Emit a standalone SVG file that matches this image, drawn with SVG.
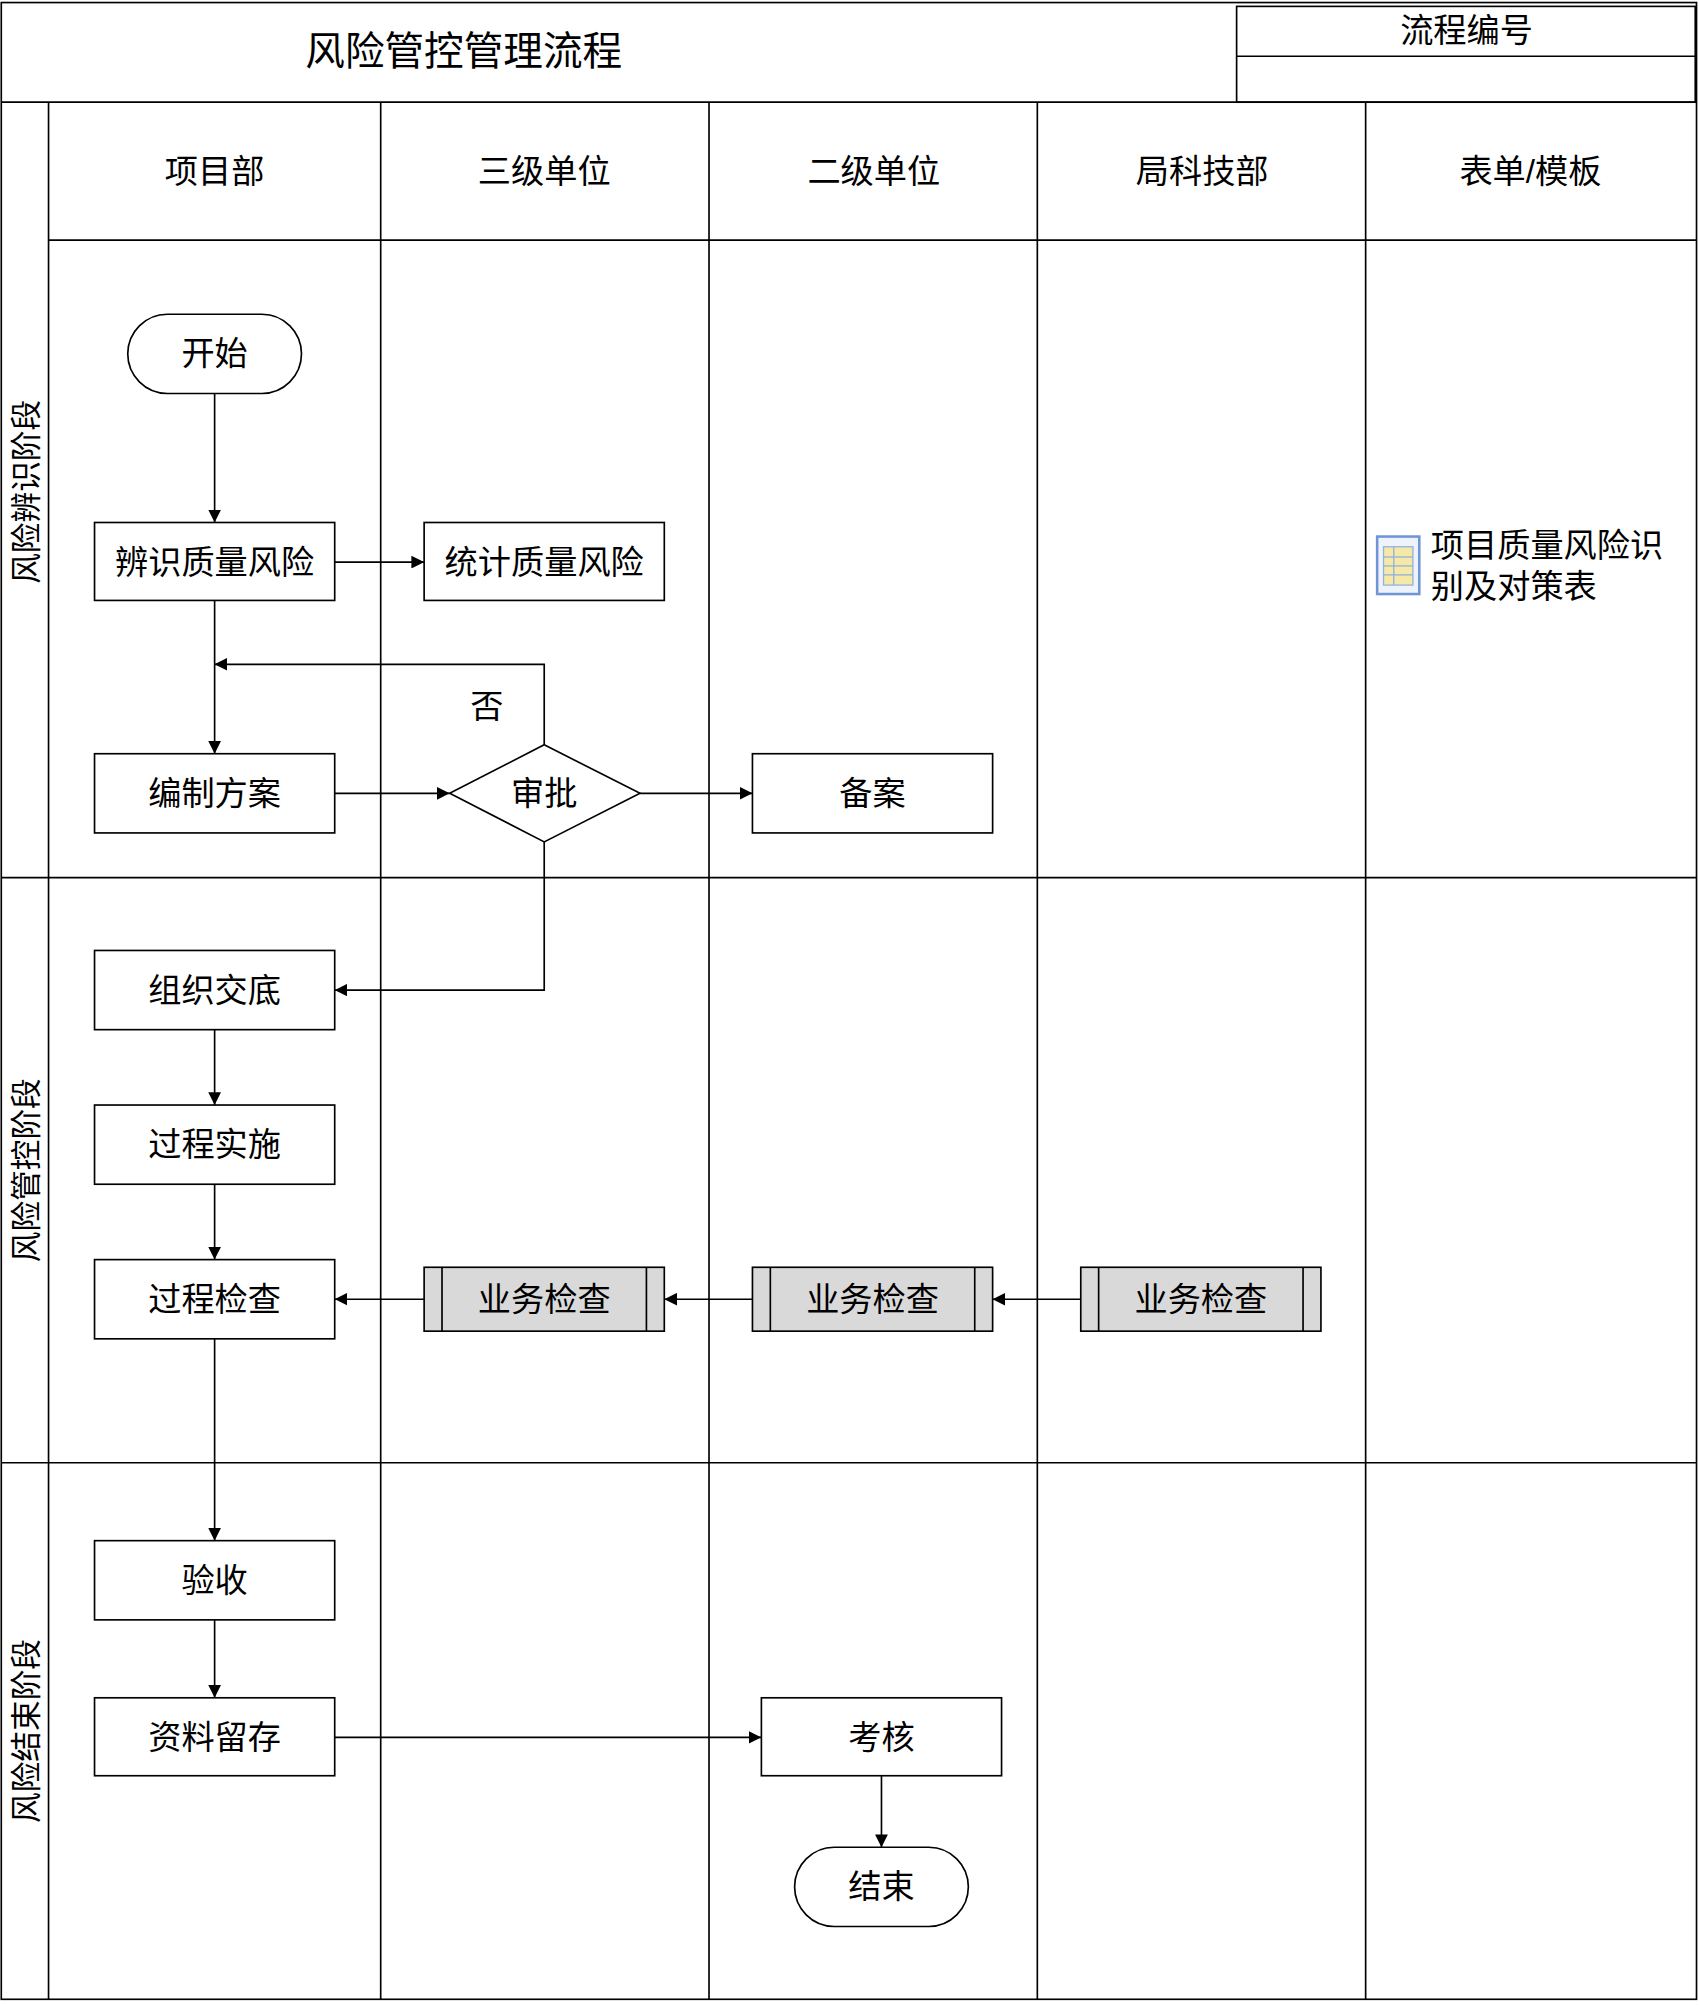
<svg xmlns="http://www.w3.org/2000/svg" width="1699" height="2005" viewBox="0 0 1699 2005">
<defs>
<style>
.ln{stroke:#000;stroke-width:1.3;fill:none}
.bx{stroke:#000;stroke-width:1.3;fill:#fff}
.gb{stroke:#000;stroke-width:1.3;fill:#d9d9d9}
.t{font-family:"Liberation Sans","Noto Sans CJK SC",sans-serif;font-size:26px;text-anchor:middle;dominant-baseline:central;fill:#000}
.c{stroke:#000;stroke-width:1.3;fill:none;marker-end:url(#a)}
</style>
<marker id="a" viewBox="0 0 10 10" refX="10" refY="5" markerWidth="10" markerHeight="10" markerUnits="userSpaceOnUse" orient="auto"><path d="M0,0 L10,5 L0,10 z" fill="#000"/></marker>
</defs>
<rect width="1699" height="2005" fill="#fff"/>
<g transform="scale(1.2775)">
<g id="frame">
<rect class="ln" x="1" y="2" width="1327" height="1563"/>
<line class="ln" x1="1" y1="80" x2="1328" y2="80"/>
<text class="t" x="363" y="40" style="font-size:31px">风险管控管理流程</text>
<rect class="ln" x="968" y="5" width="359" height="75"/>
<line class="ln" x1="968" y1="44" x2="1327" y2="44"/>
<text class="t" x="1148" y="24">流程编号</text>
<line class="ln" x1="38" y1="80" x2="38" y2="1565"/>
<line class="ln" x1="298" y1="80" x2="298" y2="1565"/>
<line class="ln" x1="555" y1="80" x2="555" y2="1565"/>
<line class="ln" x1="812" y1="80" x2="812" y2="1565"/>
<line class="ln" x1="1069" y1="80" x2="1069" y2="1565"/>
<line class="ln" x1="38" y1="188" x2="1328" y2="188"/>
<line class="ln" x1="1" y1="687" x2="1328" y2="687"/>
<line class="ln" x1="1" y1="1145" x2="1328" y2="1145"/>
<text class="t" x="168" y="134">项目部</text>
<text class="t" x="426" y="134">三级单位</text>
<text class="t" x="684" y="134">二级单位</text>
<text class="t" x="941" y="134">局科技部</text>
<text class="t" x="1198" y="134">表单/模板</text>
<text class="t" transform="translate(20,385) rotate(-90)" style="font-size:24px">风险辨识阶段</text>
<text class="t" transform="translate(20,916) rotate(-90)" style="font-size:24px">风险管控阶段</text>
<text class="t" transform="translate(20,1355) rotate(-90)" style="font-size:24px">风险结束阶段</text>
</g>
<g id="connectors">
<line class="c" x1="168" y1="308" x2="168" y2="409"/>
<line class="c" x1="262" y1="440" x2="332" y2="440"/>
<line class="c" x1="168" y1="470" x2="168" y2="590"/>
<polyline class="c" points="426,583 426,520 168,520"/>
<text x="381" y="553" style="font-family:'Liberation Serif','Noto Sans CJK SC',serif;font-size:26px" text-anchor="middle" dominant-baseline="central">否</text>
<line class="c" x1="262" y1="621" x2="352" y2="621"/>
<line class="c" x1="501" y1="621" x2="589" y2="621"/>
<polyline class="c" points="426,659 426,775 262,775"/>
<line class="c" x1="168" y1="806" x2="168" y2="865"/>
<line class="c" x1="168" y1="927" x2="168" y2="986"/>
<line class="c" x1="332" y1="1017" x2="262" y2="1017"/>
<line class="c" x1="589" y1="1017" x2="520" y2="1017"/>
<line class="c" x1="846" y1="1017" x2="777" y2="1017"/>
<line class="c" x1="168" y1="1048" x2="168" y2="1206"/>
<line class="c" x1="168" y1="1268" x2="168" y2="1329"/>
<line class="c" x1="262" y1="1360" x2="596" y2="1360"/>
<line class="c" x1="690" y1="1390" x2="690" y2="1446"/>
</g>
<g id="start"><rect class="bx" x="100" y="246" width="136" height="62" rx="31"/><text class="t" x="168" y="277">开始</text></g>
<g id="identify"><rect class="bx" x="74" y="409" width="188" height="61"/><text class="t" x="168" y="440">辨识质量风险</text></g>
<g id="stat"><rect class="bx" x="332" y="409" width="188" height="61"/><text class="t" x="426" y="440">统计质量风险</text></g>
<g id="plan"><rect class="bx" x="74" y="590" width="188" height="62"/><text class="t" x="168" y="621">编制方案</text></g>
<g id="approve"><polygon class="bx" points="426,583 501,621 426,659 352,621"/><text class="t" x="426" y="621">审批</text></g>
<g id="record"><rect class="bx" x="589" y="590" width="188" height="62"/><text class="t" x="683" y="621">备案</text></g>
<g id="brief"><rect class="bx" x="74" y="744" width="188" height="62"/><text class="t" x="168" y="775">组织交底</text></g>
<g id="implement"><rect class="bx" x="74" y="865" width="188" height="62"/><text class="t" x="168" y="896">过程实施</text></g>
<g id="inspect"><rect class="bx" x="74" y="986" width="188" height="62"/><text class="t" x="168" y="1017">过程检查</text></g>
<g id="check3"><rect class="gb" x="332" y="992" width="188" height="50"/><line class="ln" x1="346" y1="992" x2="346" y2="1042"/><line class="ln" x1="506" y1="992" x2="506" y2="1042"/><text class="t" x="426" y="1017">业务检查</text></g>
<g id="check2"><rect class="gb" x="589" y="992" width="188" height="50"/><line class="ln" x1="603" y1="992" x2="603" y2="1042"/><line class="ln" x1="763" y1="992" x2="763" y2="1042"/><text class="t" x="683" y="1017">业务检查</text></g>
<g id="check1"><rect class="gb" x="846" y="992" width="188" height="50"/><line class="ln" x1="860" y1="992" x2="860" y2="1042"/><line class="ln" x1="1020" y1="992" x2="1020" y2="1042"/><text class="t" x="940" y="1017">业务检查</text></g>
<g id="accept"><rect class="bx" x="74" y="1206" width="188" height="62"/><text class="t" x="168" y="1237">验收</text></g>
<g id="archive"><rect class="bx" x="74" y="1329" width="188" height="61"/><text class="t" x="168" y="1360">资料留存</text></g>
<g id="assess"><rect class="bx" x="596" y="1329" width="188" height="61"/><text class="t" x="690" y="1360">考核</text></g>
<g id="end"><rect class="bx" x="622" y="1446" width="136" height="62" rx="31"/><text class="t" x="690" y="1477">结束</text></g>
<g id="form">
<rect x="1078" y="420" width="33" height="45" fill="#eef3fb" stroke="#6f95d6" stroke-width="2"/>
<rect x="1083" y="428" width="23" height="30" fill="#f6e9a8" stroke="#8fb0e0" stroke-width="1"/>
<line x1="1083" y1="436" x2="1106" y2="436" stroke="#8fb0e0"/><line x1="1083" y1="443" x2="1106" y2="443" stroke="#8fb0e0"/><line x1="1083" y1="450" x2="1106" y2="450" stroke="#8fb0e0"/><line x1="1091" y1="428" x2="1091" y2="458" stroke="#8fb0e0"/>
<text class="t" x="1120" y="427" style="text-anchor:start">项目质量风险识</text>
<text class="t" x="1120" y="459" style="text-anchor:start">别及对策表</text>
</g>
</g>
</svg>
